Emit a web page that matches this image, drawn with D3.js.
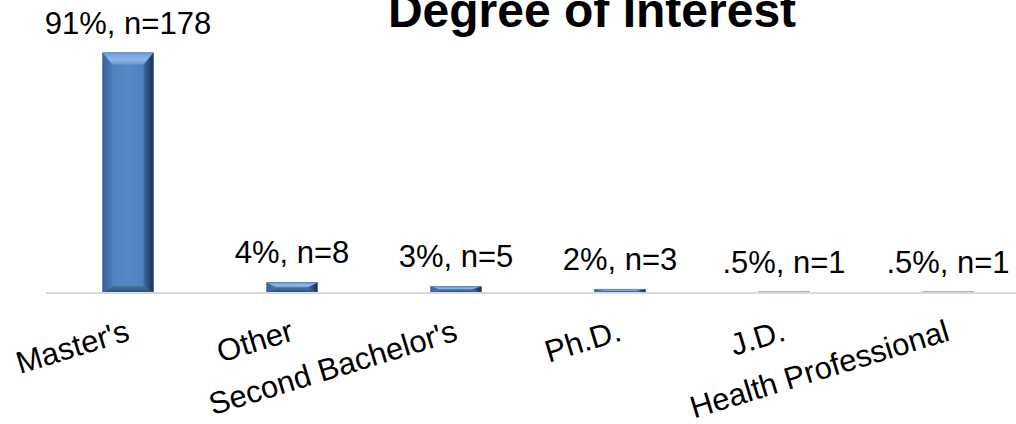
<!DOCTYPE html>
<html>
<head>
<meta charset="utf-8">
<script src="https://cdn.jsdelivr.net/npm/d3@7"></script>
<style>
  html, body { margin: 0; padding: 0; background: #ffffff; }
  svg { display: block; }
</style>
</head>
<body>
<svg id="chart" width="1016" height="424"></svg>
<script>
// ---- data ----
const title = "Degree of Interest";
const categories = ["Master's", "Other", "Second Bachelor's", "Ph.D.", "J.D.", "Health Professional"];
const counts = [178, 8, 5, 3, 1, 1];
const valueLabels = ["91%, n=178", "4%, n=8", "3%, n=5", "2%, n=3", ".5%, n=1", ".5%, n=1"];

// ---- layout ----
const W = 1016, H = 424;
const baseY = 293;
const font = "'Liberation Sans', Arial, Helvetica, sans-serif";

const svg = d3.select("#chart");

const defs = svg.append("defs");
function lin(id, x1, y1, x2, y2, stops) {
  const g = defs.append("linearGradient").attr("id", id)
    .attr("x1", x1).attr("y1", y1).attr("x2", x2).attr("y2", y2);
  stops.forEach(s => g.append("stop").attr("offset", s[0]).attr("stop-color", s[1]));
}
lin("gFace", 0, 0, 1, 0, [[0, "#4d7fbf"], [0.5, "#5688c8"], [1, "#4b7cba"]]);
lin("gTop", 0, 0, 0, 1, [[0, "#6f9bd6"], [0.6, "#8db6ea"], [1, "#6a97d2"]]);
lin("gLeft", 0, 0, 1, 0, [[0, "#355f93"], [1, "#4a7bb8"]]);
lin("gRight", 0, 0, 1, 0, [[0, "#3f6aa0"], [0.6, "#2a4770"], [1, "#1b2f4a"]]);
lin("gBottom", 0, 0, 0, 1, [[0, "#46729f"], [1, "#2e4e77"]]);

const x = d3.scaleBand()
  .domain(categories)
  .range([46, 1030])
  .paddingInner(0.689)
  .paddingOuter(0.3445);

const y = d3.scaleLinear()
  .domain([0, d3.max(counts)])
  .range([baseY, 52.5]);

const rows = categories.map((c, i) => ({ c, v: counts[i], label: valueLabels[i] }));

// ---- bars with bevel ----
const bars = svg.append("g").selectAll("g.bar")
  .data(rows)
  .join("g").attr("class", "bar");

bars.each(function (d) {
  const g = d3.select(this);
  const x0 = x(d.c), x1 = x0 + x.bandwidth();
  const y0 = y(d.v), y1 = y(0);
  const h = y1 - y0, w = x1 - x0;
  if (h <= 0) return;
  const bs = Math.min(10, w / 2);     // side bevel
  const bt = Math.min(12, h / 2);     // top bevel
  const bb = Math.min(7, h / 2);      // bottom bevel
  const pts = a => a.map(p => p.join(",")).join(" ");
  g.append("rect").attr("x", x0).attr("y", y0).attr("width", w).attr("height", h)
    .attr("fill", "url(#gFace)");
  g.append("polygon").attr("points", pts([[x0, y0], [x0 + bs, y0 + bt], [x0 + bs, y1 - bb], [x0, y1]]))
    .attr("fill", "url(#gLeft)").attr("opacity", 0.9);
  g.append("polygon").attr("points", pts([[x1, y0], [x1 - bs, y0 + bt], [x1 - bs, y1 - bb], [x1, y1]]))
    .attr("fill", "url(#gRight)");
  g.append("polygon").attr("points", pts([[x0, y0], [x1, y0], [x1 - bs, y0 + bt], [x0 + bs, y0 + bt]]))
    .attr("fill", "url(#gTop)");
  g.append("polygon").attr("points", pts([[x0, y1], [x1, y1], [x1 - bs, y1 - bb], [x0 + bs, y1 - bb]]))
    .attr("fill", "url(#gBottom)");
  g.append("rect").attr("x", x0 + 0.5).attr("y", y0 + 0.5).attr("width", w - 1).attr("height", Math.max(0, h - 1))
    .attr("fill", "none").attr("stroke", "#3a5f8f").attr("stroke-opacity", 0.35).attr("stroke-width", 1);
});

// ---- axis line ----
svg.append("line")
  .attr("x1", 46).attr("x2", W)
  .attr("y1", baseY).attr("y2", baseY)
  .attr("stroke", "#d9d9d9").attr("stroke-width", 2);

// ---- value labels ----
svg.append("g").selectAll("text")
  .data(rows)
  .join("text")
  .attr("x", d => x(d.c) + x.bandwidth() / 2)
  .attr("y", d => y(d.v) - 19)
  .attr("text-anchor", "middle")
  .attr("font-family", font)
  .attr("font-size", 31)
  .attr("fill", "#000")
  .text(d => d.label);

// ---- category labels (rotated) ----
svg.append("g").selectAll("text")
  .data(categories)
  .join("text")
  .attr("transform", d => `translate(${x(d) + x.bandwidth() / 2 + 3},${baseY + 47}) rotate(-17)`)
  .attr("text-anchor", "end")
  .attr("font-family", font)
  .attr("font-size", 31)
  .attr("fill", "#000")
  .text(d => d);

// ---- title ----
svg.append("text")
  .attr("x", 592)
  .attr("y", 27)
  .attr("text-anchor", "middle")
  .attr("font-family", font)
  .attr("font-weight", "bold")
  .attr("font-size", 48)
  .attr("fill", "#000")
  .text(title);
</script>
</body>
</html>
